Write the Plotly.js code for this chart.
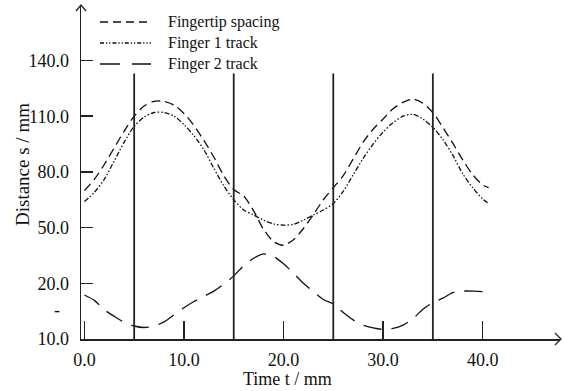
<!DOCTYPE html>
<html><head><meta charset="utf-8">
<script src="https://cdn.plot.ly/plotly-3.0.1.min.js"></script>
<style>html,body{margin:0;padding:0;background:#fff;}#chart{width:564px;height:391px;}</style>
</head><body><div id="chart"></div>
<script>
const timeT = [0,1,2,3,4,5,6,7,8,9,10,11,12,13,14,15,16,17,18,19,20,21,22,23,24,25,26,27,28,29,30,31,32,33,34,35,36,37,38,39,40,40.6];
const fingertipSpacing = [70,76,84,93,102,110,115.5,118,118,116,111.5,105,97,88,78,70.5,67,59,49,42.5,40.5,43.5,49.5,57,65,71.5,78,87,96,103,108.5,114,117.5,119.2,117,112,104,95.5,86.5,78.5,73,71.5];
const finger1Track = [64,69,76,86,96,104.5,109.5,112,112,110,105.5,99.5,92,82,72.5,65,59.5,56.8,54,52,51.3,51.8,54,56.8,59.5,63,69.5,78.5,87.3,95,101.5,106.5,110,111,108.5,104,97.5,89,79,71.5,65.5,63];
const finger2Track = [13.7,10.8,5.8,2.2,-1,-3,-3.8,-3,-0.8,3,6.8,10.2,13,15.8,19.5,24,29.5,33.5,35.8,34.5,30.5,25.5,20,15.5,11.3,8.9,4.3,0.3,-2.5,-4,-4.8,-4.3,-2.5,1,6,9.6,12,15,15.8,15.8,15.5,15];
const markerTimes = [5,15,25,35];
const markerTop = 133;
const seriesNames = ['Fingertip spacing','Finger 1 track','Finger 2 track'];
const xTickVals = [0,10,20,30,40];
const xTickText = ['0.0','10.0','20.0','30.0','40.0'];
const yTickVals = [-10,20,50,80,110,140];
const yTickText = ['10.0','20.0','50.0','80.0','110.0','140.0'];
const xTitle = 'Time t / mm';
const yTitle = 'Distance s / mm';

const W = 564, H = 391;
const M = {l:81, r:4, t:5, b:52};
const PW = W - M.l - M.r, PH = H - M.t - M.b;
const px = v => (v - M.l) / PW;
const py = v => (H - M.b - v) / PH;
const FONT = '"Liberation Serif", "Times New Roman", Times, "DejaVu Serif", serif';
const ink = '#111';

const dashes = ['9px,5px', '5px,2px,1.5px,2px,1.5px,2px', '18px,10px'];
const legDashes = ['8px,5px', '4px,2px,1.2px,2px,1.2px,2px', '20px,12px'];
const seriesData = [fingertipSpacing, finger1Track, finger2Track];

const traces = seriesData.map((ys, i) => ({
  x: timeT, y: ys, name: seriesNames[i], type: 'scatter', mode: 'lines',
  line: {color: ink, width: 1.3, dash: dashes[i], shape: 'spline', smoothing: 0.8},
  showlegend: false, hoverinfo: 'skip'
}));

const shapes = markerTimes.map(t => ({
  type: 'line', xref: 'x', yref: 'y', x0: t, x1: t, y0: -10, y1: markerTop,
  line: {color: '#222', width: 1.8}
}));
shapes.push({type:'path', xref:'paper', yref:'paper',
  path: `M${px(76)},${py(11)} L${px(81)},${py(5)} L${px(86)},${py(11)}`,
  line:{color:'#222', width:1.3}});
shapes.push({type:'path', xref:'paper', yref:'paper',
  path: `M${px(555)},${py(333)} L${px(561)},${py(339)} L${px(555)},${py(345)}`,
  line:{color:'#222', width:1.3}});
const legY = [22, 43, 64];
legY.forEach((yy, i) => {
  shapes.push({type:'line', xref:'paper', yref:'paper', x0: px(100), x1: px(151), y0: py(yy), y1: py(yy),
    line:{color: ink, width: 1.4, dash: legDashes[i]}});
});

const annotations = [];
legY.forEach((yy, i) => {
  annotations.push({xref:'paper', yref:'paper', x: px(166), y: py(yy), xanchor:'left', yanchor:'middle',
    text: seriesNames[i], showarrow:false, font:{family:FONT, size:16, color:ink}});
});
annotations.push({xref:'paper', yref:'paper', x: px(287), y: py(379), xanchor:'center', yanchor:'middle',
  text: xTitle, showarrow:false, font:{family:FONT, size:18, color:ink}});
annotations.push({xref:'paper', yref:'paper', x: px(22), y: py(165), xanchor:'center', yanchor:'middle',
  text: yTitle, textangle:-90, showarrow:false, font:{family:FONT, size:19, color:ink}});
annotations.push({xref:'paper', yref:'paper', x: px(57), y: py(310), xanchor:'center', yanchor:'middle',
  text: '-', showarrow:false, font:{family:FONT, size:18, color:ink}});

const layout = {
  width: W, height: H, margin: M, paper_bgcolor:'#fff', plot_bgcolor:'#fff',
  showlegend: false,
  font: {family: FONT, size: 18, color: ink},
  xaxis: {range: [-0.34, 47.77], tickvals: xTickVals, ticktext: xTickText,
    ticks:'inside', ticklen: 18, tickwidth: 1.5, tickcolor:'#222',
    showline: true, linecolor:'#222', linewidth: 1.5, showgrid:false, zeroline:false,
    ticklabelstandoff: 4, tickfont:{family:FONT, size:18, color:ink}},
  yaxis: {range: [-10, 169.9], tickvals: yTickVals, ticktext: yTickText,
    ticks:'inside', ticklen: 12, tickwidth: 1.5, tickcolor:'#222',
    showline: true, linecolor:'#222', linewidth: 1.5, showgrid:false, zeroline:false,
    ticklabelstandoff: 7, tickfont:{family:FONT, size:18, color:ink}},
  shapes: shapes, annotations: annotations
};
Plotly.newPlot('chart', traces, layout, {staticPlot: true, displayModeBar: false});
</script>
</body></html>
